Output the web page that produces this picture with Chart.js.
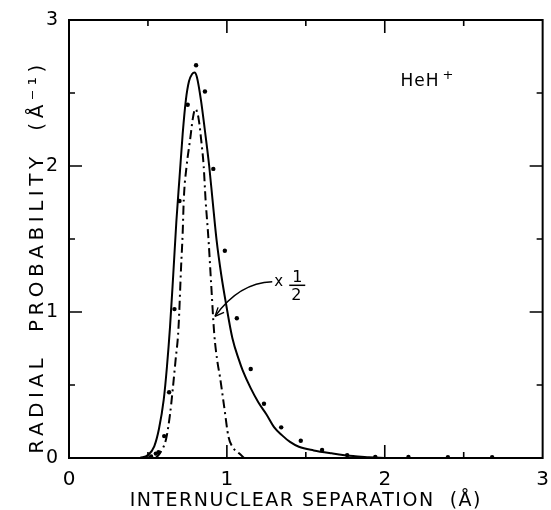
<!DOCTYPE html>
<html lang="en">
<head>
  <meta charset="UTF-8" />
  <title>HeH+ radial probability</title>
  <script src="https://cdn.jsdelivr.net/npm/chart.js"></script>
  <style>
    * { box-sizing: border-box; }
    html, body { margin: 0; padding: 0; background: #fff; }
    #wrap { width: 551px; height: 510px; position: relative; }
  </style>
</head>
<body>
  <div id="wrap"><canvas id="chart"></canvas></div>

  <script>
    // solid curve
    const solidX = [0.45, 0.50, 0.54, 0.57, 0.60, 0.62, 0.64, 0.66, 0.68, 0.70, 0.72, 0.74, 0.76, 0.78, 0.795,
                    0.81, 0.836, 0.86, 0.888, 0.909, 0.935, 0.965, 0.994, 1.035, 1.077, 1.10, 1.15, 1.20, 1.25,
                    1.30, 1.35, 1.40, 1.456, 1.55, 1.665, 1.80, 1.90, 2.00];
    const solidY = [0.00, 0.02, 0.08, 0.20, 0.40, 0.62, 0.90, 1.25, 1.62, 1.92, 2.22, 2.45, 2.58, 2.63, 2.64,
                    2.61, 2.45, 2.25, 2.00, 1.77, 1.49, 1.25, 1.06, 0.82, 0.67, 0.60, 0.48, 0.38, 0.30,
                    0.21, 0.155, 0.11, 0.077, 0.052, 0.032, 0.013, 0.006, 0.0];

    // dash-dot curve (x 1/2)
    const halfX = [0.55, 0.58, 0.615, 0.64, 0.657, 0.675, 0.693, 0.71, 0.72, 0.727, 0.745, 0.767, 0.785, 0.80,
                   0.82, 0.84, 0.853, 0.865, 0.884, 0.90, 0.92, 0.94, 0.956, 0.983, 1.01, 1.035, 1.077, 1.11];
    const halfY = [0.00, 0.04, 0.13, 0.30, 0.47, 0.67, 0.88, 1.31, 1.54, 1.77, 2.00, 2.18, 2.33, 2.39,
                   2.33, 2.15, 2.00, 1.77, 1.49, 1.20, 0.85, 0.66, 0.557, 0.35, 0.146, 0.077, 0.032, 0.0];

    // dots
    const dotX = [0.52, 0.55, 0.567, 0.603, 0.634, 0.668, 0.70, 0.752, 0.805, 0.861, 0.914, 0.987, 1.063,
                  1.151, 1.235, 1.344, 1.468, 1.603, 1.762, 1.94, 2.15, 2.40, 2.68];
    const dotY = [0.01, 0.03, 0.04, 0.15, 0.45, 1.02, 1.76, 2.42, 2.69, 2.51, 1.98, 1.42, 0.957,
                  0.61, 0.372, 0.21, 0.118, 0.055, 0.02, 0.007, 0.007, 0.005, 0.005];

    const majorTicks = [0, 1, 2, 3];
    const minorTicks = [0.5, 1.5, 2.5];

    const pts = (xs, ys) => xs.map((x, i) => ({ x: x, y: ys[i] }));
    const FONT = '"DejaVu Sans", sans-serif';

    // frame, inward ticks, titles and labels
    const decor = {
      id: 'decor',
      afterDraw(chart) {
        const { ctx, chartArea: a, scales: { x, y } } = chart;
        ctx.save();
        ctx.strokeStyle = '#000';
        ctx.fillStyle = '#000';
        ctx.lineWidth = 2;
        ctx.strokeRect(a.left, a.top, a.right - a.left, a.bottom - a.top);

        ctx.lineWidth = 1.6;
        const tick = (v, len) => {
          const px = x.getPixelForValue(v), py = y.getPixelForValue(v);
          ctx.beginPath();
          ctx.moveTo(px, a.bottom); ctx.lineTo(px, a.bottom - len);
          ctx.moveTo(px, a.top); ctx.lineTo(px, a.top + len);
          ctx.moveTo(a.left, py); ctx.lineTo(a.left + len, py);
          ctx.moveTo(a.right, py); ctx.lineTo(a.right - len, py);
          ctx.stroke();
        };
        majorTicks.slice(1, -1).forEach(v => tick(v, 13));
        minorTicks.forEach(v => tick(v, 6));

        // axis titles
        ctx.font = '19px ' + FONT;
        ctx.letterSpacing = '1.5px';
        ctx.textAlign = 'center';
        ctx.textBaseline = 'alphabetic';
        ctx.fillText('INTERNUCLEAR SEPARATION  (Å)', (a.left + a.right) / 2, 506);

        ctx.save();
        ctx.translate(43, 257);
        ctx.rotate(-Math.PI / 2);
        ctx.font = '20px ' + FONT;
        ctx.letterSpacing = '4.5px';
        ctx.fillText('RADIAL  PROBABILITY  (Å⁻¹)', 0, 0);
        ctx.restore();

        // HeH+
        ctx.letterSpacing = '1px';
        ctx.textAlign = 'left';
        ctx.font = '17px ' + FONT;
        ctx.fillText('HeH', x.getPixelForValue(2.1), y.getPixelForValue(2.55));
        ctx.font = '13px ' + FONT;
        ctx.fillText('+', x.getPixelForValue(2.1) + 42, y.getPixelForValue(2.55) - 7);

        // x 1/2 label with arrow
        const lx = x.getPixelForValue(1.3), ly = y.getPixelForValue(1.2);
        ctx.letterSpacing = '0px';
        ctx.font = '15px ' + FONT;
        ctx.fillText('x', lx, ly + 3);
        ctx.textAlign = 'center';
        ctx.font = '16px ' + FONT;
        ctx.fillText('1', lx + 23, ly - 1);
        ctx.fillText('2', lx + 22, ly + 17);
        ctx.lineWidth = 1.5;
        ctx.beginPath();
        ctx.moveTo(lx + 15, ly + 2.5); ctx.lineTo(lx + 31, ly + 2.5);
        ctx.stroke();

        const tx = x.getPixelForValue(0.925), ty = y.getPixelForValue(0.97);
        ctx.lineWidth = 1.4;
        ctx.beginPath();
        ctx.moveTo(lx - 2, ly - 1);
        ctx.quadraticCurveTo(tx + 24, ly, tx, ty);
        ctx.stroke();
        ctx.beginPath();
        ctx.moveTo(tx, ty);
        ctx.lineTo(tx + 3, ty - 9);
        ctx.moveTo(tx, ty);
        ctx.lineTo(tx + 9, ty - 4);
        ctx.stroke();
        ctx.restore();
      }
    };

    new Chart(document.getElementById('chart'), {
      type: 'scatter',
      data: {
        datasets: [
          {
            type: 'line',
            data: pts(solidX, solidY),
            borderColor: '#000',
            borderWidth: 2,
            pointRadius: 0,
            fill: false,
            cubicInterpolationMode: 'monotone'
          },
          {
            type: 'line',
            data: pts(halfX, halfY),
            borderColor: '#000',
            borderWidth: 2,
            borderDash: [9, 4, 2, 4],
            pointRadius: 0,
            fill: false,
            cubicInterpolationMode: 'monotone'
          },
          {
            data: pts(dotX, dotY),
            backgroundColor: '#000',
            borderWidth: 0,
            pointRadius: 2.2
          }
        ]
      },
      options: {
        responsive: true,
        maintainAspectRatio: false,
        animation: false,
        layout: { padding: { top: 20, right: 7, left: 0, bottom: 0 } },
        plugins: { legend: { display: false }, tooltip: { enabled: false } },
        scales: {
          x: {
            type: 'linear',
            min: 0,
            max: 3,
            afterFit: s => { s.height = 52; },
            afterBuildTicks: s => { s.ticks = majorTicks.map(v => ({ value: v })); },
            grid: { display: false },
            border: { display: false },
            ticks: { color: '#000', padding: 2, font: { family: FONT, size: 20 }, maxRotation: 0 }
          },
          y: {
            type: 'linear',
            min: 0,
            max: 3,
            afterFit: s => { s.width = 69; },
            afterBuildTicks: s => { s.ticks = majorTicks.map(v => ({ value: v })); },
            grid: { display: false },
            border: { display: false },
            ticks: { color: '#000', padding: 3, font: { family: FONT, size: 19 } }
          }
        }
      },
      plugins: [decor]
    });
  </script>
</body>
</html>
